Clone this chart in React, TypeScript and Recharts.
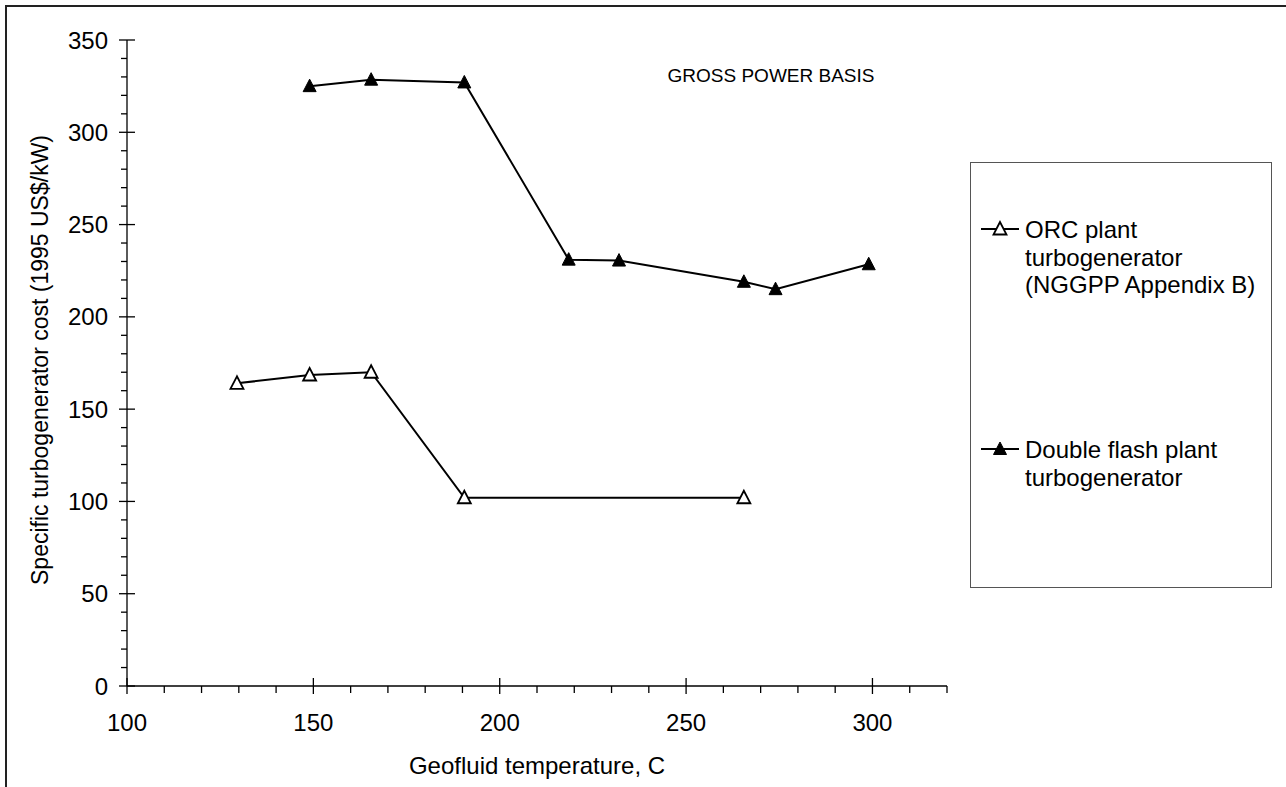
import React from 'react';
import { LineChart, Line, XAxis, YAxis, Customized } from 'recharts';

const orcTemp = [129.5, 149, 165.5, 190.5, 265.5];
const orcCost = [164, 168.5, 170, 102, 102];
const flashTemp = [149, 165.5, 190.5, 218.5, 232, 265.5, 274, 299];
const flashCost = [325, 328.5, 327, 231, 230.5, 219, 215, 228.5];
const xTicks = [100, 110, 120, 130, 140, 150, 160, 170, 180, 190, 200, 210, 220, 230, 240, 250, 260, 270, 280, 290, 300, 310, 320];
const yTicks = [0, 10, 20, 30, 40, 50, 60, 70, 80, 90, 100, 110, 120, 130, 140, 150, 160, 170, 180, 190, 200, 210, 220, 230, 240, 250, 260, 270, 280, 290, 300, 310, 320, 330, 340, 350];
const xLabels = [100, 150, 200, 250, 300];
const yLabels = [0, 50, 100, 150, 200, 250, 300, 350];
const seriesNames = ['ORC plant', 'turbogenerator', '(NGGPP Appendix B)'];
const seriesNames2 = ['Double flash plant', 'turbogenerator'];

const orcData = orcTemp.map((t, i) => ({ temp: t, cost: orcCost[i] }));
const flashData = flashTemp.map((t, i) => ({ temp: t, cost: flashCost[i] }));

const FONT = '"Liberation Sans", Arial, sans-serif';

const Tri = (props: any) => {
  const { cx, cy, filled } = props;
  if (cx == null || cy == null) return null;
  const pts = `${cx},${cy - 7} ${cx - 6.5},${cy + 5.5} ${cx + 6.5},${cy + 5.5}`;
  return (
    <polygon
      points={pts}
      fill={filled ? '#000' : '#fff'}
      stroke="#000"
      strokeWidth={filled ? 1 : 1.8}
      strokeLinejoin="miter"
    />
  );
};

const YTick = (props: any) => {
  const { x, y, payload } = props;
  const major = yLabels.includes(payload.value);
  return (
    <g>
      {major ? (
        <line x1={x - 8} x2={x + 8} y1={y} y2={y} stroke="#000" strokeWidth={1.3} />
      ) : (
        <line x1={x - 6} x2={x} y1={y} y2={y} stroke="#000" strokeWidth={1.3} />
      )}
      {major && (
        <text x={x - 19} y={y} textAnchor="end" dominantBaseline="central" fontSize={24} fontFamily={FONT} fill="#000">
          {payload.value}
        </text>
      )}
    </g>
  );
};

const XTick = (props: any) => {
  const { x, y, payload } = props;
  const major = xLabels.includes(payload.value);
  return (
    <g>
      {major ? (
        <line x1={x} x2={x} y1={y - 8} y2={y + 8} stroke="#000" strokeWidth={1.3} />
      ) : (
        <line x1={x} x2={x} y1={y} y2={y + 7} stroke="#000" strokeWidth={1.3} />
      )}
      {major && (
        <text x={x} y={y + 36} textAnchor="middle" dominantBaseline="central" fontSize={24} fontFamily={FONT} fill="#000">
          {payload.value}
        </text>
      )}
    </g>
  );
};

const LegendIcon = ({ filled }: { filled: boolean }) => (
  <svg width={40} height={20} style={{ position: 'absolute', left: 9, top: 0, overflow: 'visible' }}>
    <line x1={1} x2={39} y1={10} y2={10} stroke="#000" strokeWidth={1.8} />
    <Tri cx={20} cy={10} filled={filled} />
  </svg>
);

export default function App() {
  return (
    <div style={{ position: 'fixed', left: 0, top: 0, width: 1286, height: 787, overflow: 'hidden', background: '#fff' }}>
      <div
        style={{
          position: 'absolute',
          left: 5,
          top: 5,
          width: 1320,
          height: 820,
          border: '2px solid #222',
          boxSizing: 'border-box',
        }}
      />
      <div style={{ position: 'absolute', left: 0, top: 0 }}>
        <LineChart width={1286} height={787} margin={{ top: 40, right: 339, bottom: 0, left: 0 }}>
          <XAxis
            xAxisId="top"
            orientation="top"
            type="number"
            dataKey="temp"
            domain={[100, 320]}
            height={0}
            tick={false}
            tickLine={false}
            axisLine={{ stroke: '#999', strokeWidth: 1.3 }}
          />
          <YAxis
            yAxisId="right"
            orientation="right"
            type="number"
            domain={[0, 350]}
            width={0}
            tick={false}
            tickLine={false}
            axisLine={{ stroke: '#999', strokeWidth: 1.3 }}
          />
          <XAxis
            type="number"
            dataKey="temp"
            domain={[100, 320]}
            ticks={xTicks}
            interval={0}
            height={101}
            tickSize={0}
            tickMargin={0}
            tickLine={false}
            tick={<XTick />}
            axisLine={{ stroke: '#000', strokeWidth: 1.3 }}
            label={{
              content: (p: any) => {
                const vb = p.viewBox;
                return (
                  <text x={vb.x + vb.width / 2} y={765} textAnchor="middle" dominantBaseline="central" fontSize={24} fontFamily={FONT} fill="#000">
                    Geofluid temperature, C
                  </text>
                );
              },
            }}
          />
          <YAxis
            type="number"
            domain={[0, 350]}
            ticks={yTicks}
            interval={0}
            width={127}
            tickSize={0}
            tickMargin={0}
            tickLine={false}
            tick={<YTick />}
            axisLine={{ stroke: '#000', strokeWidth: 1.3 }}
            label={{
              content: (p: any) => {
                const vb = p.viewBox;
                const cy = vb.y + vb.height / 2 - 3;
                return (
                  <text x={40} y={cy} transform={`rotate(-90, 40, ${cy})`} textAnchor="middle" dominantBaseline="central" fontSize={23} fontFamily={FONT} fill="#000">
                    Specific turbogenerator cost (1995 US$/kW)
                  </text>
                );
              },
            }}
          />
          <Line
            data={orcData}
            dataKey="cost"
            stroke="#000"
            strokeWidth={2}
            isAnimationActive={false}
            dot={(p: any) => <Tri key={`o${p.index}`} cx={p.cx} cy={p.cy} filled={false} />}
            activeDot={false}
          />
          <Line
            data={flashData}
            dataKey="cost"
            stroke="#000"
            strokeWidth={2}
            isAnimationActive={false}
            dot={(p: any) => <Tri key={`f${p.index}`} cx={p.cx} cy={p.cy} filled={true} />}
            activeDot={false}
          />
          <Customized
            component={() => (
              <text x={771} y={75} textAnchor="middle" dominantBaseline="central" fontSize={19} fontFamily={FONT} fill="#000">
                GROSS POWER BASIS
              </text>
            )}
          />
        </LineChart>
      </div>
      <div
        style={{
          position: 'absolute',
          left: 970,
          top: 162,
          width: 302,
          height: 426,
          border: '1px solid #555',
          boxSizing: 'border-box',
          background: '#fff',
          fontFamily: FONT,
          fontSize: 24,
          color: '#000',
        }}
      >
        <div style={{ position: 'absolute', left: 0, top: 56, width: 300 }}>
          <LegendIcon filled={false} />
          <div style={{ position: 'absolute', left: 54, top: -3, lineHeight: '27.5px', whiteSpace: 'nowrap' }}>
            {seriesNames.map((s) => (
              <div key={s}>{s}</div>
            ))}
          </div>
        </div>
        <div style={{ position: 'absolute', left: 0, top: 276, width: 300 }}>
          <LegendIcon filled={true} />
          <div style={{ position: 'absolute', left: 54, top: -3, lineHeight: '27.5px', whiteSpace: 'nowrap' }}>
            {seriesNames2.map((s) => (
              <div key={s}>{s}</div>
            ))}
          </div>
        </div>
      </div>
    </div>
  );
}
